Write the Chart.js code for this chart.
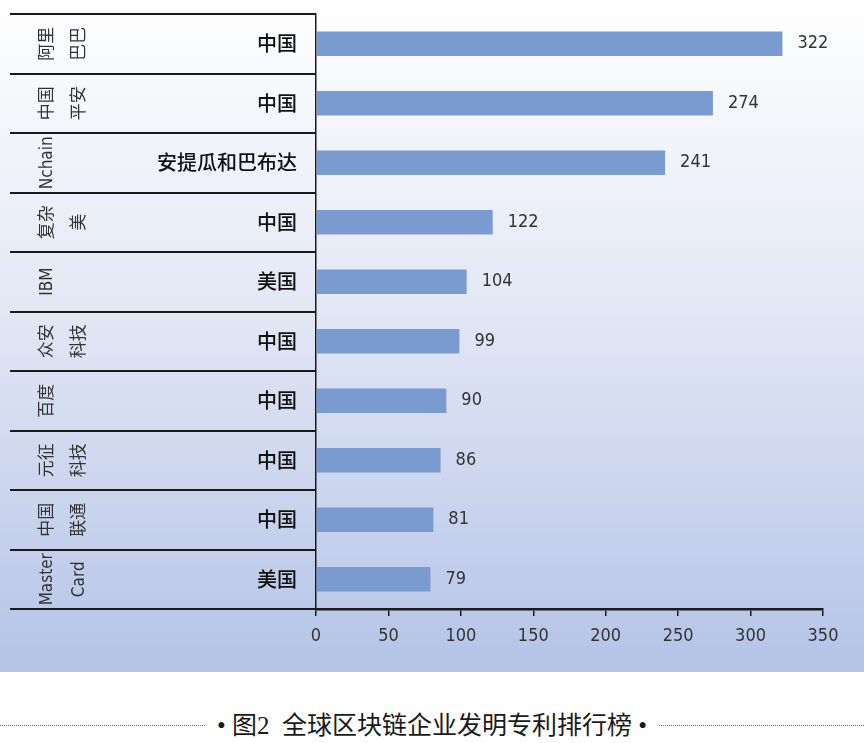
<!DOCTYPE html>
<html>
<head>
<meta charset="utf-8">
<script src="https://cdn.jsdelivr.net/npm/chart.js@4"></script>
<style>
  body { margin: 0; background: #fff; }
  #wrap { position: relative; width: 864px; height: 743px; }
  #caption {
    position: absolute; left: 0; top: 700px; width: 864px; height: 46px;
    display: flex; align-items: center;
    font-family: 'Liberation Serif', 'Noto Sans CJK SC', serif;
    font-size: 25px; color: #1a1a1a; white-space: nowrap;
  }
  .dots { flex: 1; border-top: 1.5px dotted #777; height: 0; margin-top: 4px; }
  #caption span { padding: 0 12px; }
</style>
</head>
<body>
<div id="wrap">
  <canvas id="barChart" width="864" height="672"></canvas>
  <div id="caption"><div class="dots"></div><span>•&nbsp;图2&nbsp;&nbsp;全球区块链企业发明专利排行榜&nbsp;•</span><div class="dots"></div></div>
</div>
<script>
const companies = [
  ['阿里', '巴巴'],
  ['中国', '平安'],
  ['Nchain'],
  ['复杂', '美'],
  ['IBM'],
  ['众安', '科技'],
  ['百度'],
  ['元征', '科技'],
  ['中国', '联通'],
  ['Master', 'Card']
];
const countries = ['中国', '中国', '安提瓜和巴布达', '中国', '美国', '中国', '中国', '中国', '中国', '美国'];
const patents = [322, 274, 241, 122, 104, 99, 90, 86, 81, 79];
const xTicks = [0, 50, 100, 150, 200, 250, 300, 350];

const narrowFont = "'Liberation Sans Narrow', 'DejaVu Sans Condensed', 'Noto Sans CJK SC', sans-serif";

// gradient backdrop behind everything
const backdrop = {
  id: 'backdrop',
  beforeDraw(chart) {
    const c = chart.ctx;
    const g = c.createLinearGradient(0, 0, 0, chart.height);
    g.addColorStop(0, '#ffffff');
    g.addColorStop(0.45, '#e3e8f5');
    g.addColorStop(1, '#b4c3e7');
    c.save();
    c.fillStyle = g;
    c.fillRect(0, 0, chart.width, chart.height);
    c.restore();
  }
};

// left label table + value labels
const labelTable = {
  id: 'labelTable',
  afterDraw(chart) {
    const c = chart.ctx;
    const y = chart.scales.y;
    const area = chart.chartArea;
    const step = (area.bottom - area.top) / companies.length;
    c.save();
    c.strokeStyle = '#1a1a1a';
    c.lineWidth = 2;
    for (let i = 0; i <= companies.length; i++) {
      const ly = Math.round(area.top + i * step);
      c.beginPath();
      c.moveTo(10, ly);
      c.lineTo(area.left, ly);
      c.stroke();
    }

    companies.forEach((lines, i) => {
      const cy = y.getPixelForValue(i);
      c.font = "17px " + narrowFont;
      c.fillStyle = '#333';
      c.textAlign = 'center';
      c.textBaseline = 'middle';
      lines.forEach((t, j) => {
        c.save();
        c.translate(48 + j * 32, cy);
        c.rotate(-Math.PI / 2);
        c.fillText(t, 0, 0);
        c.restore();
      });

      c.font = "500 20px 'Noto Sans CJK SC', sans-serif";
      c.fillStyle = '#111';
      c.textAlign = 'right';
      c.fillText(countries[i], 297, cy);
    });

    const meta = chart.getDatasetMeta(0);
    c.font = "18px " + narrowFont;
    c.fillStyle = '#333';
    c.textAlign = 'left';
    c.textBaseline = 'middle';
    meta.data.forEach((bar, i) => {
      c.fillText(String(patents[i]), bar.x + 15, bar.y);
    });
    c.restore();
  }
};

new Chart(document.getElementById('barChart').getContext('2d'), {
  type: 'bar',
  data: {
    labels: companies.map(l => l.join('')),
    datasets: [{
      label: '发明专利',
      data: patents,
      backgroundColor: '#7a9bcf',
      barPercentage: 1,
      categoryPercentage: 0.41
    }]
  },
  options: {
    indexAxis: 'y',
    responsive: false,
    animation: false,
    layout: { padding: { left: 0, right: 41, top: 14, bottom: 0 } },
    plugins: { legend: { display: false }, tooltip: { enabled: false } },
    scales: {
      x: {
        min: 0,
        max: 350,
        afterBuildTicks: scale => { scale.ticks = xTicks.map(v => ({ value: v })); },
        afterFit: scale => { scale.height = 63; },
        grid: { drawOnChartArea: false, drawTicks: true, tickLength: 7, color: '#1a1a1a', lineWidth: 1.5 },
        border: { display: true, color: '#1a1a1a', width: 2.5 },
        ticks: { color: '#333', padding: 10, font: { family: narrowFont, size: 18 } }
      },
      y: {
        afterFit: scale => { scale.width = 316; },
        grid: { display: false },
        border: { display: true, color: '#1a1a1a', width: 1.5 },
        ticks: { display: false }
      }
    }
  },
  plugins: [backdrop, labelTable]
});
</script>
</body>
</html>
